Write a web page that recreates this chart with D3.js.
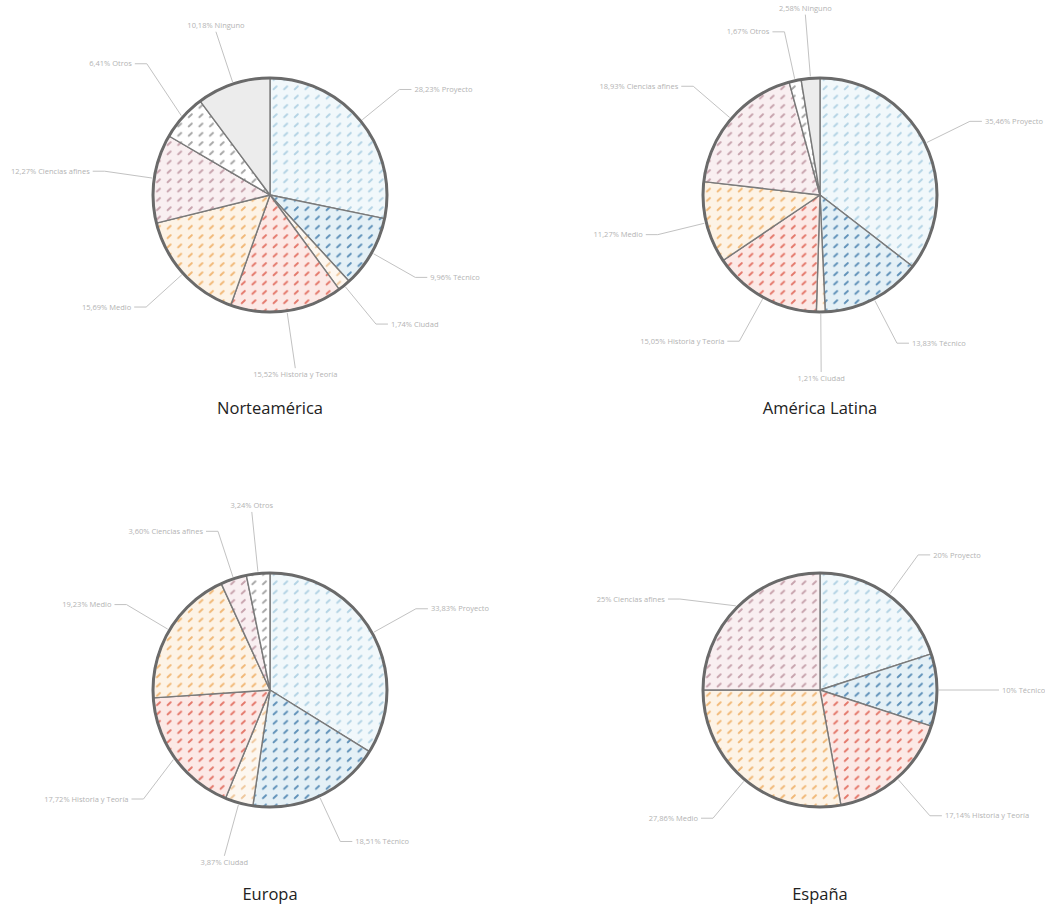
<!DOCTYPE html>
<html><head><meta charset="utf-8">
<script src="https://cdn.jsdelivr.net/npm/d3@7"></script>
<style>body{margin:0;background:#fff;}svg{display:block;}</style>
</head><body>
<svg id="chart" width="1045" height="908"></svg>
<script>
// ---------- DATA ----------
const regions = ["Norteamérica", "América Latina", "Europa", "España"];
const naCategories = ["Proyecto","Técnico","Ciudad","Historia y Teoría","Medio","Ciencias afines","Otros","Ninguno"];
const naValues     = [28.23, 9.96, 1.74, 15.52, 15.69, 12.27, 6.41, 10.18];
const alCategories = ["Proyecto","Técnico","Ciudad","Historia y Teoría","Medio","Ciencias afines","Otros","Ninguno"];
const alValues     = [35.46, 13.83, 1.21, 15.05, 11.27, 18.93, 1.67, 2.58];
const euCategories = ["Proyecto","Técnico","Ciudad","Historia y Teoría","Medio","Ciencias afines","Otros"];
const euValues     = [33.83, 18.51, 3.87, 17.72, 19.23, 3.60, 3.24];
const esCategories = ["Proyecto","Técnico","Historia y Teoría","Medio","Ciencias afines"];
const esValues     = [20, 10, 17.14, 27.86, 25];

// ---------- STYLE / LAYOUT ----------
const styles = {
  "Proyecto":          {bg:"#f1f8fb", mk:"#b3d3e4"},
  "Técnico":           {bg:"#e4f0f6", mk:"#5e90b8"},
  "Ciudad":            {bg:"#fdf7f0", mk:"#efc79c"},
  "Historia y Teoría": {bg:"#fce9e6", mk:"#e4776a"},
  "Medio":             {bg:"#fdf3e6", mk:"#f1b877"},
  "Ciencias afines":   {bg:"#f9eff1", mk:"#c7a3ad"},
  "Otros":             {bg:"#ffffff", mk:"#a6a6a6"},
  "Ninguno":           {bg:"#ececec", mk:null}
};
const R = 117;
const panels = [
  {cx:270, cy:195, ty:414, cats:naCategories, vals:naValues,
   lab:{"Historia y Teoría":{mode:"v",ext:58},"Ninguno":{mode:"v",ext:55},"Otros":{ext:63,da:5}}},
  {cx:820, cy:195, ty:414, cats:alCategories, vals:alValues,
   lab:{"Ciudad":{mode:"v",ext:60},"Ninguno":{mode:"v",ext:64}}},
  {cx:270, cy:690, ty:900, cats:euCategories, vals:euValues,
   lab:{"Ciudad":{mode:"v",ext:55},"Otros":{mode:"v",ext:62},"Historia y Teoría":{da:-5}}},
  {cx:820, cy:690, ty:900, cats:esCategories, vals:esValues,
   lab:{"Ciencias afines":{da:-12}}}
];

const svg = d3.select("#chart");
const defs = svg.append("defs");
Object.entries(styles).forEach(([k, s], i) => {
  if (!s.mk) return;
  const p = defs.append("pattern").attr("id", "pat" + i)
    .attr("patternUnits", "userSpaceOnUse").attr("width", 10.6).attr("height", 9.3);
  p.append("rect").attr("width", 10.6).attr("height", 9.3).attr("fill", s.bg);
  p.append("line").attr("x1", 3.6).attr("y1", 5.8).attr("x2", 6.6).attr("y2", 3.0)
    .attr("stroke", s.mk).attr("stroke-width", 2).attr("stroke-linecap", "round");
  s.fill = "url(#pat" + i + ")";
});
styles["Ninguno"].fill = styles["Ninguno"].bg;

const fmt = v => (Number.isInteger(v) ? String(v) : v.toFixed(2).replace(".", ",")) + "%";

panels.forEach((P, pi) => {
  const data = P.cats.map((c, i) => ({cat: c, value: P.vals[i]}));
  const pie = d3.pie().value(d => d.value).sort(null);
  const arcs = pie(data);
  const arc = d3.arc().innerRadius(0).outerRadius(R);
  const g = svg.append("g").attr("transform", `translate(${P.cx},${P.cy})`);

  g.selectAll("path.slice").data(arcs).join("path").attr("class", "slice")
    .attr("d", arc)
    .attr("fill", d => styles[d.data.cat].fill)
    .attr("stroke", "#7a7a7a").attr("stroke-width", 1.4).attr("stroke-linejoin", "round");

  g.append("circle").attr("r", R).attr("fill", "none")
    .attr("stroke", "#6a6a6a").attr("stroke-width", 3);

  // labels
  arcs.forEach(d => {
    const o = P.lab[d.data.cat] || {};
    const mid = (d.startAngle + d.endAngle) / 2;
    const a = mid + (o.da || 0) * Math.PI / 180;
    const ext = o.ext || 50;
    const x0 = (R + 2) * Math.sin(mid), y0 = -(R + 2) * Math.cos(mid);
    const ex = (R + ext) * Math.sin(a), ey = -(R + ext) * Math.cos(a);
    const txt = fmt(d.data.value) + " " + d.data.cat;
    if (o.mode === "v") {
      const up = ey < 0;
      g.append("path").attr("d", d3.line()([[x0, y0], [ex, ey]]))
        .attr("fill", "none").attr("stroke", "#c2c2c2").attr("stroke-width", 1);
      g.append("text").attr("x", ex).attr("y", up ? ey - 4 : ey + 9)
        .attr("text-anchor", "middle").text(txt)
        .attr("font-family", "Open Sans, sans-serif").attr("font-size", 7.5).attr("fill", "#b3b3b3");
    } else {
      const side = ex >= 0 ? 1 : -1;
      const tx = ex + side * 12;
      g.append("path").attr("d", d3.line()([[x0, y0], [ex, ey], [tx, ey]]))
        .attr("fill", "none").attr("stroke", "#c2c2c2").attr("stroke-width", 1);
      g.append("text").attr("x", tx + side * 3).attr("y", ey).attr("dy", "0.35em")
        .attr("text-anchor", side > 0 ? "start" : "end").text(txt)
        .attr("font-family", "Open Sans, sans-serif").attr("font-size", 7.5).attr("fill", "#b3b3b3");
    }
  });

  svg.append("text").attr("x", P.cx).attr("y", P.ty)
    .attr("text-anchor", "middle").text(regions[pi])
    .attr("font-family", "Open Sans, sans-serif").attr("font-size", 16.5).attr("fill", "#222");
});
</script>
</body></html>
